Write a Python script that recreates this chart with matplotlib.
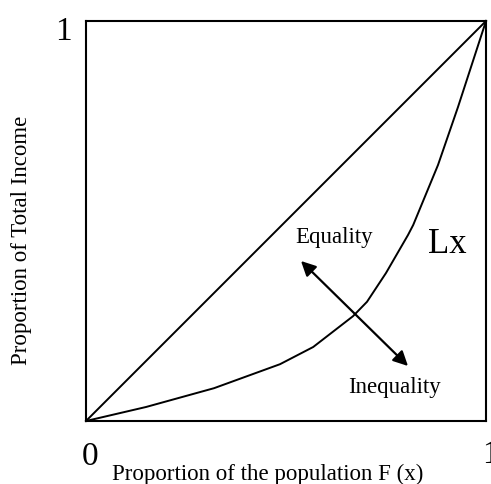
import matplotlib
matplotlib.use("Agg")
import matplotlib.pyplot as plt

# Lorenz curve
pop_share = [0, 0.15, 0.32, 0.485, 0.568, 0.6675, 0.7025, 0.75, 0.805, 0.818, 0.88, 0.93, 1]
income_share = [0, 0.035, 0.082, 0.142, 0.185, 0.262, 0.298, 0.37, 0.465, 0.49, 0.64, 0.785, 1]
equality_line = [0, 1]

arrow_start = (0.5375, 0.40)
arrow_end = (0.805, 0.1375)

plt.rcParams["font.family"] = ["Liberation Serif", "DejaVu Serif"]

fig = plt.figure(figsize=(4.91, 4.85), dpi=100)
ax = fig.add_axes([86 / 491, 63 / 485, 400 / 491, 400 / 485])

ax.plot(equality_line, equality_line, color="black", lw=1.4, clip_on=False)
ax.plot(pop_share, income_share, color="black", lw=1.4, clip_on=False)

ax.annotate("", xy=arrow_end, xytext=arrow_start,
            arrowprops=dict(arrowstyle="<|-|>", color="black", lw=1.6,
                            mutation_scale=22, shrinkA=0, shrinkB=0))

ax.text(0.5225, 0.448, "Equality", fontsize=16.5, va="baseline", ha="left")
ax.text(0.655, 0.0725, "Inequality", fontsize=16.5, va="baseline", ha="left")
ax.text(0.855, 0.4225, "Lx", fontsize=25, va="baseline", ha="left")

ax.text(0.009, -0.1075, "0", fontsize=24, va="baseline", ha="center", clip_on=False)
ax.text(-0.0575, 0.955, "1", fontsize=24, va="baseline", ha="center", clip_on=False)
ax.text(0.99, -0.1025, "1", fontsize=24, va="baseline", ha="left", clip_on=False)

ax.set_xlim(0, 1)
ax.set_ylim(0, 1)
ax.set_xticks([])
ax.set_yticks([])
for s in ax.spines.values():
    s.set_linewidth(1.5)

fig.text(268 / 491, 1 - 480 / 485, "Proportion of the population F (x)",
         fontsize=16.5, ha="center", va="baseline")
fig.text(21.5 / 491, 1 - 240 / 485, "Proportion of Total Income",
         fontsize=16.5, ha="center", va="center", rotation=90)

plt.savefig("out.png", dpi=100)
